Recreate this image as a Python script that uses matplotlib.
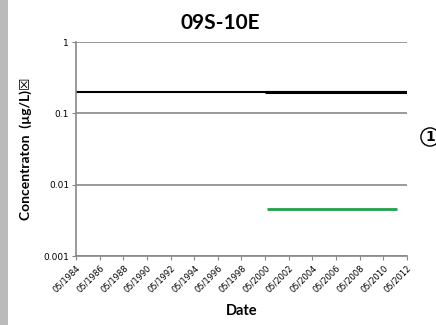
import matplotlib.pyplot as plt
import matplotlib.dates as mdates
import matplotlib.patches as patches
from datetime import datetime

# series
black_dates = [datetime(1984, 5, 1), datetime(2012, 5, 1)]
black_vals = [0.2, 0.2]
black2_dates = [datetime(2000, 5, 1), datetime(2012, 5, 1)]
black2_vals = [0.2, 0.2]
green_dates = [datetime(2000, 7, 1), datetime(2011, 7, 1)]
green_vals = [0.0045, 0.0045]

tick_years = list(range(1984, 2013, 2))
tick_dates = [datetime(y, 5, 1) for y in tick_years]
tick_labels = ["05/%d" % y for y in tick_years]

fig = plt.figure(figsize=(4.36, 3.25), dpi=100)
ax = fig.add_axes([76 / 436, 1 - 256 / 325, (407 - 76) / 436, (256 - 42) / 325])

ax.plot(black_dates, black_vals, color="k", lw=1.5, solid_capstyle="butt")
ax.plot(black2_dates, black2_vals, color="k", lw=2.2, solid_capstyle="butt")
ax.plot(green_dates, green_vals, color="#1fa04a", lw=2.0, solid_capstyle="butt")

ax.set_yscale("log")
ax.set_ylim(0.001, 1)
ax.set_yticks([0.001, 0.01, 0.1, 1])
ax.set_yticklabels(["0.001", "0.01", "0.1", "1"], fontsize=6.5)
ax.yaxis.set_minor_locator(plt.NullLocator())
ax.set_xlim(tick_dates[0], tick_dates[-1])
ax.set_xticks(tick_dates)
ax.set_xticklabels(tick_labels, rotation=45, ha="right", rotation_mode="anchor", fontsize=6)
ax.tick_params(axis="both", color="#888888", length=3, pad=2)
ax.grid(axis="y", color="#888888", lw=1.2)
for s in ["top", "right"]:
    ax.spines[s].set_visible(False)
for s in ["left", "bottom"]:
    ax.spines[s].set_color("#888888")
    ax.spines[s].set_linewidth(1.2)

fig.text(220 / 436, 1 - 23 / 325, "09S-10E", fontsize=15, fontweight="bold", family="Lato",
         ha="center", va="center")
fig.text(242 / 436, 1 - 311 / 325, "Date", fontsize=10.5, fontweight="bold", family="Lato",
         ha="center", va="center")
fig.text(26 / 436, 1 - 149 / 325, "Concentraton  (µg/L)\u2612", fontsize=10, fontweight="bold",
         family=["Lato", "DejaVu Sans"], rotation=90, ha="center", va="center")

# circled marker cut off at the right edge
fig.text(430 / 436, 1 - 137 / 325, "1", fontsize=10, fontweight="bold", ha="center", va="center",
         bbox=dict(boxstyle="circle,pad=0.15", fc="white", ec="k", lw=1))
# grey strip on the left edge
fig.patches.append(patches.Rectangle((0, 0), 8 / 436, 1, transform=fig.transFigure,
                                     fc="#bbbbbb", ec="none"))

fig.savefig("out.png", dpi=100)
